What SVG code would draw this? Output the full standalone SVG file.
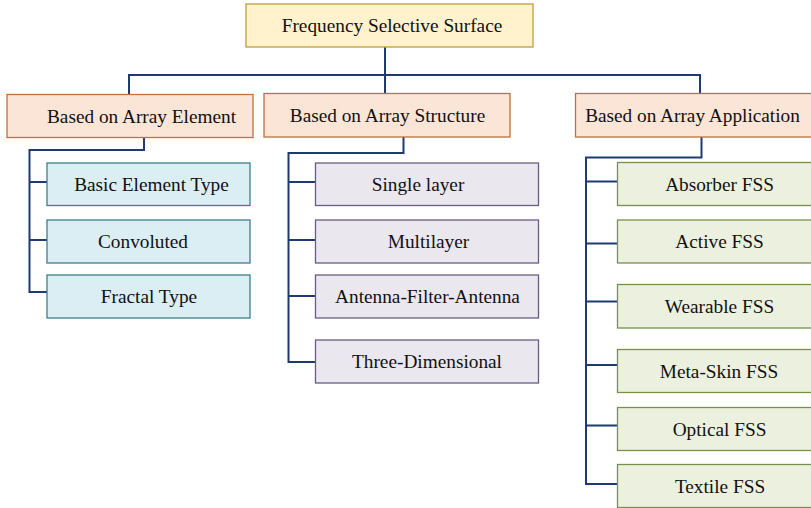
<svg xmlns="http://www.w3.org/2000/svg" width="811" height="508" viewBox="0 0 811 508">
<style>
rect{stroke-width:1.3}
.top{fill:#FFF2CC;stroke:#BF9F3A}
.cat{fill:#FBE5D6;stroke:#C0703A}
.blue{fill:#DBEEF3;stroke:#3E7E8C}
.pur{fill:#EAE7EF;stroke:#6B5C85}
.grn{fill:#EBF1DE;stroke:#77914A}
text{font-family:'Liberation Serif','Times New Roman','DejaVu Serif',serif;font-size:19.3px;fill:#111;text-anchor:middle}
.c{fill:none;stroke:#1F3A70;stroke-width:2}
</style>
<g id="connectors">
<path class="c" d="M385 47V93M129 94V75H700V93"/>
<path class="c" d="M144 138V150H29.5V292H47M29.5 182H47M29.5 240H47"/>
<path class="c" d="M403.5 137V153H288.5V362H315M288.5 182H315M288.5 240H315M288.5 296H315"/>
<path class="c" d="M701.5 137V157.5H586V484H617M586 181.5H617M586 243.5H617M586 301.5H617M586 365H617M586 425.5H617"/>
</g>
<g id="n-fss"><rect class="top" x="246" y="4" width="287" height="43"/><text x="392" y="31.5">Frequency Selective Surface</text></g>
<g id="n-element"><rect class="cat" x="7" y="94.5" width="246" height="43"/><text x="141.5" y="123">Based on Array Element</text></g>
<g id="n-structure"><rect class="cat" x="264" y="93.5" width="246" height="43.5"/><text x="387.5" y="121.5">Based on Array Structure</text></g>
<g id="n-application"><rect class="cat" x="575.5" y="93.5" width="245" height="43.5"/><text x="692.5" y="121.5">Based on Array Application</text></g>
<g id="n-basic"><rect class="blue" x="47" y="163" width="203" height="42.5"/><text x="151.5" y="190.5">Basic Element Type</text></g>
<g id="n-convoluted"><rect class="blue" x="47" y="220" width="203" height="43"/><text x="143" y="248">Convoluted</text></g>
<g id="n-fractal"><rect class="blue" x="47" y="275" width="203" height="43"/><text x="149" y="303">Fractal Type</text></g>
<g id="n-single"><rect class="pur" x="315.5" y="163" width="223" height="42.5"/><text x="418" y="190.5">Single layer</text></g>
<g id="n-multi"><rect class="pur" x="315.5" y="220" width="223" height="43"/><text x="428.5" y="248">Multilayer</text></g>
<g id="n-afa"><rect class="pur" x="315.5" y="275" width="223" height="43"/><text x="427.5" y="303">Antenna-Filter-Antenna</text></g>
<g id="n-3d"><rect class="pur" x="315.5" y="340" width="223" height="43"/><text x="427" y="368">Three-Dimensional</text></g>
<g id="n-absorber"><rect class="grn" x="617.5" y="162.5" width="205" height="43"/><text x="719.5" y="190.5">Absorber FSS</text></g>
<g id="n-active"><rect class="grn" x="617.5" y="220" width="205" height="43"/><text x="719.5" y="248">Active FSS</text></g>
<g id="n-wearable"><rect class="grn" x="617.5" y="284.5" width="205" height="43.5"/><text x="719.5" y="312.5">Wearable FSS</text></g>
<g id="n-metaskin"><rect class="grn" x="617.5" y="349.5" width="205" height="43"/><text x="719" y="377.5">Meta-Skin FSS</text></g>
<g id="n-optical"><rect class="grn" x="617.5" y="407.5" width="205" height="43"/><text x="719.5" y="435.5">Optical FSS</text></g>
<g id="n-textile"><rect class="grn" x="617.5" y="464.5" width="205" height="43"/><text x="720" y="492.5">Textile FSS</text></g>
</svg>
